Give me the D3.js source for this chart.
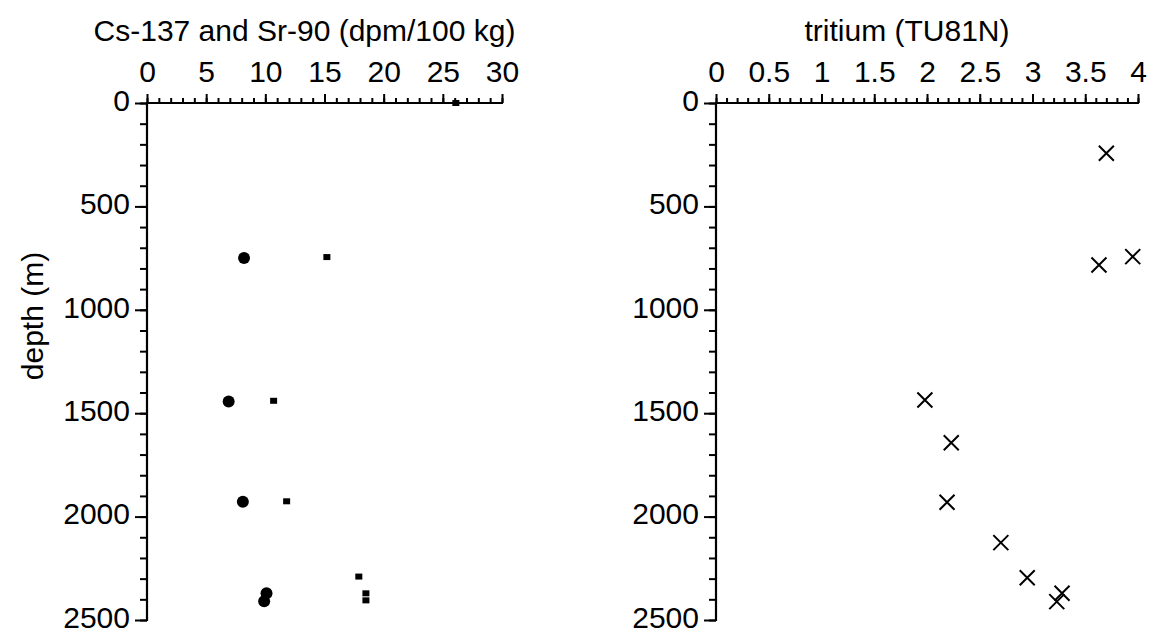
<!DOCTYPE html>
<html>
<head>
<meta charset="utf-8">
<script src="https://cdn.jsdelivr.net/npm/d3@7"></script>
<style>
  html, body { margin: 0; padding: 0; background: #fff; }
  svg text { font-family: "Liberation Sans", Arial, Helvetica, sans-serif; fill: #000; }
</style>
</head>
<body>
<svg id="chart" width="1159" height="634"></svg>
<script>
// Depth profiles: Cs-137 / Sr-90 (left) and tritium (right)
const csDepth = [750, 1443, 1928, 2371, 2409];
const csValue = [8.2, 6.9, 8.1, 10.1, 9.9];

const srDepth = [0, 745, 1440, 1926, 2290, 2371, 2405];
const srValue = [26.1, 15.2, 10.7, 11.8, 17.9, 18.5, 18.5];

const h3Depth = [243, 743, 783, 1436, 1643, 1931, 2126, 2296, 2371, 2411];
const h3Value = [3.70, 3.95, 3.63, 1.98, 2.23, 2.19, 2.70, 2.95, 3.28, 3.23];

const depthTicks = [0, 500, 1000, 1500, 2000, 2500];
const leftTicks = [0, 5, 10, 15, 20, 25, 30];
const rightTicks = [0, 0.5, 1, 1.5, 2, 2.5, 3, 3.5, 4];

const leftTitle = "Cs-137 and Sr-90 (dpm/100 kg)";
const rightTitle = "tritium (TU81N)";
const depthTitle = "depth (m)";

const svg = d3.select("#chart");
const FONT = 30;
const yTop = 103, yBottom = 620;

const y = d3.scaleLinear().domain([0, 2500]).range([yTop, yBottom]);
const xL = d3.scaleLinear().domain([0, 30]).range([147, 502]);
const xR = d3.scaleLinear().domain([0, 4]).range([716, 1138]);

function styleAxis(g) {
  g.select(".domain").remove();
  g.selectAll("line").attr("stroke", "#000").attr("stroke-width", 2);
  g.selectAll("text").attr("font-size", FONT).attr("fill", "#000");
}

function panel(x, majors, minorStep, title) {
  const [x0, x1] = x.range();
  const g = svg.append("g");

  // minor ticks along the top
  const minorX = d3.range(x.domain()[0], x.domain()[1] + 1e-9, minorStep);
  g.append("g").attr("transform", `translate(0,${yTop})`)
    .call(d3.axisTop(x).tickValues(minorX).tickSize(5).tickFormat(""))
    .call(styleAxis);
  // major ticks with labels
  g.append("g").attr("transform", `translate(0,${yTop})`)
    .call(d3.axisTop(x).tickValues(majors).tickSize(9).tickPadding(12)
      .tickFormat(d => String(d)))
    .call(styleAxis);

  // depth axis: minor every 100 m, labelled every 500 m
  g.append("g").attr("transform", `translate(${x0},0)`)
    .call(d3.axisLeft(y).tickValues(d3.range(0, 2501, 100)).tickSize(7).tickFormat(""))
    .call(styleAxis);
  g.append("g").attr("transform", `translate(${x0},0)`)
    .call(d3.axisLeft(y).tickValues(depthTicks).tickSize(12).tickPadding(5)
      .tickFormat(d => String(d)))
    .call(styleAxis)
    .call(a => a.selectAll("text").attr("dy", "0.24em"));

  // axis lines
  g.append("line").attr("x1", x0 - 1).attr("x2", x1 + 1).attr("y1", yTop).attr("y2", yTop)
    .attr("stroke", "#000").attr("stroke-width", 2.2);
  g.append("line").attr("x1", x0).attr("x2", x0).attr("y1", yTop - 1).attr("y2", yBottom + 1)
    .attr("stroke", "#000").attr("stroke-width", 2.2);

  g.append("text").attr("x", (x0 + x1) / 2 - 20).attr("y", 41)
    .attr("text-anchor", "middle").attr("font-size", FONT).text(title);
  return g;
}

const gl = panel(xL, leftTicks, 1, leftTitle);
const gr = panel(xR, rightTicks, 0.1, rightTitle);

svg.append("text")
  .attr("transform", `translate(43,316) rotate(-90)`)
  .attr("text-anchor", "middle").attr("font-size", FONT).text(depthTitle);

// clip marks so nothing rises far above the top axis
svg.append("clipPath").attr("id", "plotclip")
  .append("rect").attr("x", 0).attr("y", yTop - 3).attr("width", 1159).attr("height", 634);

const marksL = svg.append("g").attr("clip-path", "url(#plotclip)");

// Sr-90: small squares
marksL.selectAll("rect.sr").data(d3.zip(srValue, srDepth)).join("rect")
  .attr("class", "sr")
  .attr("x", d => xL(d[0]) - 3.5).attr("y", d => y(d[1]) - 3)
  .attr("width", 7).attr("height", 6).attr("fill", "#000");

// Cs-137: filled circles
marksL.selectAll("circle.cs").data(d3.zip(csValue, csDepth)).join("circle")
  .attr("class", "cs")
  .attr("cx", d => xL(d[0])).attr("cy", d => y(d[1])).attr("r", 6).attr("fill", "#000");

// tritium: crosses
gr.selectAll("path.h3").data(d3.zip(h3Value, h3Depth)).join("path")
  .attr("class", "h3")
  .attr("transform", d => `translate(${xR(d[0])},${y(d[1])})`)
  .attr("d", "M-7.5,-7.5L7.5,7.5M-7.5,7.5L7.5,-7.5")
  .attr("fill", "none").attr("stroke", "#000").attr("stroke-width", 2);
</script>
</body>
</html>
